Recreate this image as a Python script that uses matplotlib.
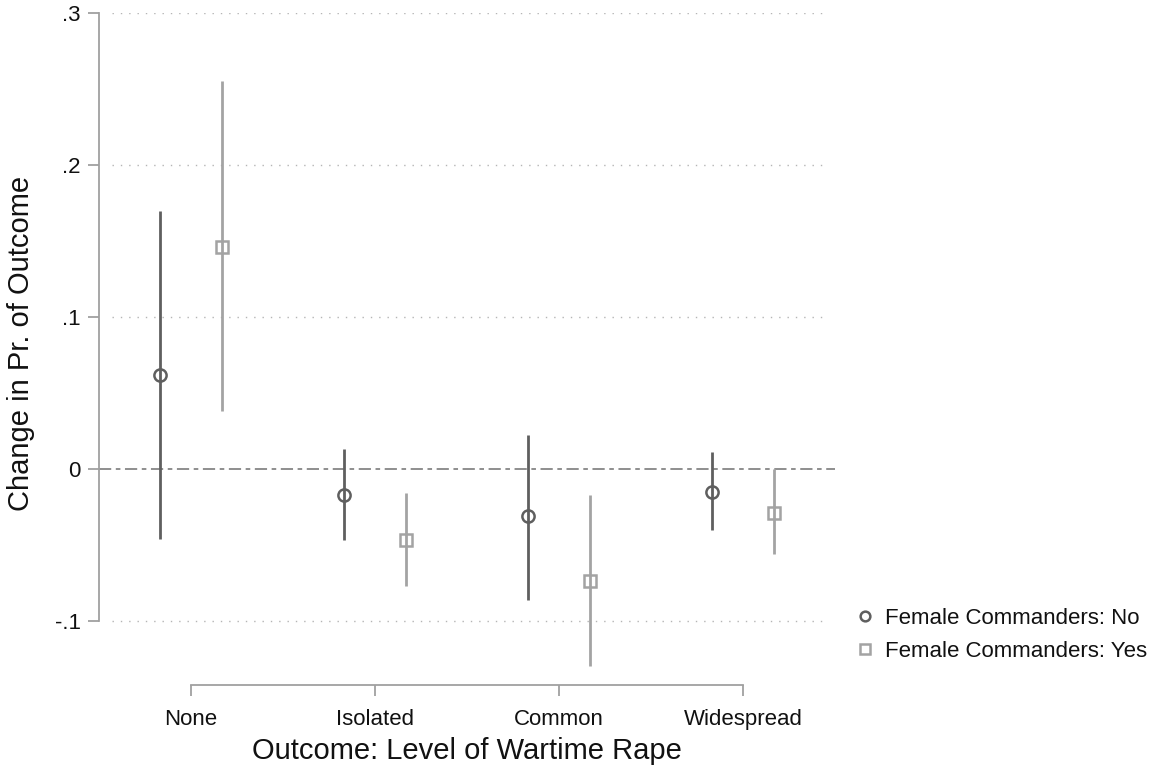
import matplotlib
matplotlib.use("Agg")
import matplotlib.pyplot as plt
from matplotlib.lines import Line2D
import numpy as np

categories = ["None", "Isolated", "Common", "Widespread"]
no_est = [0.062, -0.017, -0.031, -0.015]
no_lo = [-0.046, -0.047, -0.086, -0.040]
no_hi = [0.170, 0.013, 0.022, 0.011]
yes_est = [0.146, -0.047, -0.074, -0.029]
yes_lo = [0.038, -0.077, -0.130, -0.056]
yes_hi = [0.255, -0.016, -0.017, 0.000]
ytick_vals = [-0.1, 0.0, 0.1, 0.2, 0.3]
ytick_labels = ["-.1", "0", ".1", ".2", ".3"]
series_labels = ["Female Commanders: No", "Female Commanders: Yes"]

plt.rcParams['font.family'] = ['Liberation Sans', 'DejaVu Sans']

W, H = 1161, 767
fig = plt.figure(figsize=(W / 100, H / 100), dpi=100)
ax_left, ax_right = 99, 835
ax_top, ax_bot = 13, 674
ax = fig.add_axes([ax_left / W, 1 - ax_bot / H, (ax_right - ax_left) / W, (ax_bot - ax_top) / H])

dark = "#5f5f5f"
light = "#a3a3a3"
off = 0.166
x = np.arange(len(categories))

# grid lines
for v in ytick_vals:
    if v == 0:
        continue
    ax.axhline(v, xmin=0.018, xmax=0.99, color="#b5b5b5", lw=1.0,
               linestyle=(0, (1, 5)), zorder=0)
ax.axhline(0, color="#707070", lw=1.1, linestyle=(0, (8, 3, 3, 3)), zorder=1)

for xs, est, lo, hi, col, mk in [
    (x - off, no_est, no_lo, no_hi, dark, "o"),
    (x + off, yes_est, yes_lo, yes_hi, light, "s"),
]:
    ax.vlines(xs, lo, hi, color=col, lw=2.0, zorder=2)
    ax.plot(xs, est, linestyle="none", marker=mk, markersize=8.8, markerfacecolor="none",
            markeredgecolor=col, markeredgewidth=1.8, zorder=3)

ax.set_xlim(-0.5, 3.5)
ax.set_ylim(-0.135, 0.3)

for s in ["top", "right"]:
    ax.spines[s].set_visible(False)
ax.spines["left"].set_bounds(-0.1, 0.3)
ax.spines["left"].set_color("#a0a0a0")
ax.spines["left"].set_linewidth(1.3)
ax.spines["bottom"].set_position(("outward", 8))
ax.spines["bottom"].set_bounds(0, 3)
ax.spines["bottom"].set_color("#a0a0a0")
ax.spines["bottom"].set_linewidth(1.3)

ax.set_yticks(ytick_vals)
ax.set_yticklabels(ytick_labels)
ax.set_xticks(x)
ax.set_xticklabels(categories)
ax.tick_params(axis="both", direction="out", length=8, width=1.3, color="#a0a0a0",
               labelsize=16, labelcolor="#111111")
ax.tick_params(axis="y", pad=5)
ax.tick_params(axis="x", pad=9.5)

ax.set_xlabel("Outcome: Level of Wartime Rape", fontsize=21, color="#111111", labelpad=5)
ax.set_ylabel("Change in Pr. of Outcome", fontsize=21, color="#111111", labelpad=14)

handles = [
    Line2D([], [], linestyle="none", marker="o", markersize=7, markerfacecolor="none",
           markeredgecolor=dark, markeredgewidth=1.8),
    Line2D([], [], linestyle="none", marker="s", markersize=7, markerfacecolor="none",
           markeredgecolor=light, markeredgewidth=1.8),
]
fig.legend(handles, series_labels, loc="center left",
           bbox_to_anchor=(836 / W, 1 - 635 / H), frameon=False, fontsize=16,
           handlelength=0.8, handletextpad=0.5, labelspacing=0.55, labelcolor="#111111")

fig.savefig("out.png", dpi=100)
